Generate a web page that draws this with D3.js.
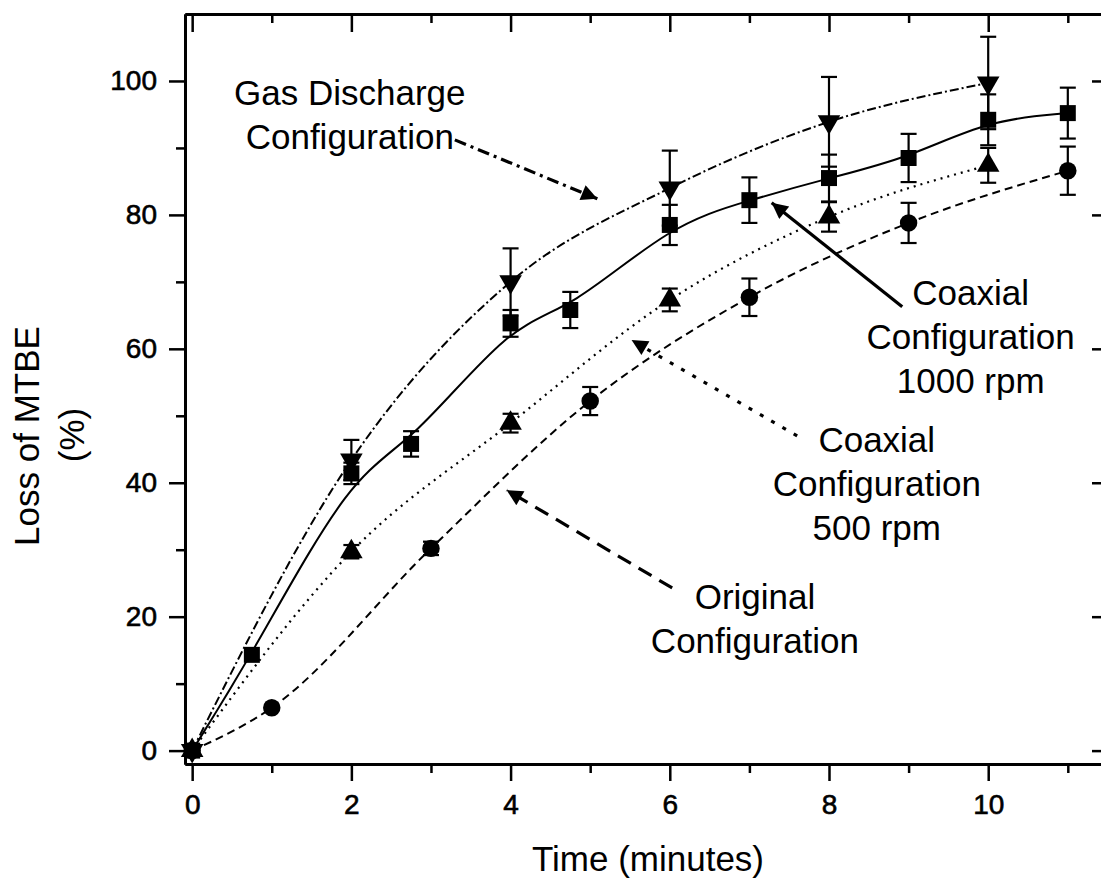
<html>
<meta charset="utf-8" />
<head>
<title>Loss of MTBE vs time</title>
<script src="https://cdn.jsdelivr.net/npm/d3@7"></script>
<style>
	body { margin: 0; background: #fff; }
	svg { font-family: "Liberation Sans", Arial, sans-serif; }
</style>
<script>
// coaxial 1000 rpm (squares, solid)
const sqT = [0, 0.75, 2, 2.75, 4, 4.75, 6, 7, 8, 9, 10, 11];
const sqY = [0, 14.3, 41.4, 45.8, 63.8, 65.8, 78.5, 82.2, 85.5, 88.5, 94.2, 95.2];
const sqErr = [0, 0, 1.6, 1.9, 2.0, 2.7, 3.0, 3.4, 3.5, 3.6, 3.8, 3.8];

// gas discharge (down triangles, dash-dot)
const gasT = [0, 2, 4, 6, 8, 10];
const gasY = [0, 43.4, 70.0, 84.0, 93.9, 99.7];
const gasErr = [0, 3.0, 5.0, 5.6, 6.7, 6.9];

// coaxial 500 rpm (up triangles, dotted)
const c500T = [0, 2, 4, 6, 8, 10];
const c500Y = [0, 29.7, 48.9, 67.3, 79.7, 87.4];
const c500Err = [0, 1.0, 1.4, 1.7, 2.2, 2.6];

// original (circles, dashed)
const origT = [0, 1, 3, 5, 7, 9, 11];
const origY = [0, 6.4, 30.2, 52.2, 67.7, 78.8, 86.6];
const origErr = [0, 0, 1.0, 2.1, 2.8, 3.0, 3.6];

const xMajor = [0, 2, 4, 6, 8, 10];
const xMinor = [1, 3, 5, 7, 9, 11];
const yMajor = [0, 20, 40, 60, 80, 100];
const yMinor = [10, 30, 50, 70, 90];

// annotation labels: lines, anchor (x, first baseline) in data units
const labelLines = [
	['Gas Discharge', 'Configuration'],
	['Coaxial', 'Configuration', '1000 rpm'],
	['Coaxial', 'Configuration', '500 rpm'],
	['Original', 'Configuration']
];
const labelX = [1.98, 9.78, 8.60, 7.07];
const labelY = [96.4, 66.5, 44.6, 21.2];
// arrows: from (x1,y1) to (x2,y2) in data units
const arrowFrom = [[3.30, 91.2], [8.92, 66.3], [7.60, 47.0], [6.03, 24.3]];
const arrowTo = [[5.09, 82.4], [7.28, 81.8], [5.52, 61.3], [3.95, 38.9]];

window.onload = function() {
	let svg = d3.select('svg');

	let x = d3.scaleLinear().domain([-0.09, 11.53]).range([185, 1110]);
	let y = d3.scaleLinear().domain([-2, 110]).range([764, 14]);

	// arrow head
	svg.append('defs').append('marker')
		.attr('id', 'head')
		.attr('viewBox', '0 0 10 10')
		.attr('refX', 10).attr('refY', 5)
		.attr('markerWidth', 6.5).attr('markerHeight', 5)
		.attr('markerUnits', 'strokeWidth')
		.attr('orient', 'auto')
		.append('path')
		.attr('d', 'M0,0 L10,5 L0,10 z')
		.style('fill', 'black');

	// axes
	function styleAxis(g) {
		g.selectAll('path.domain').style('stroke-width', '3px');
		g.selectAll('.tick line').style('stroke-width', '2.5px');
		g.selectAll('text').style('font-size', '28px').style('fill', 'black')
			.style('stroke', 'black').style('stroke-width', '0.6px')
			.style('font-family', '"Liberation Sans", Arial, sans-serif');
	}

	svg.append('g').attr('transform', 'translate(0,764)')
		.call(d3.axisBottom(x).tickValues(xMajor).tickSize(17).tickSizeOuter(0).tickPadding(13).tickFormat(d3.format('d')))
		.call(styleAxis);
	svg.append('g').attr('transform', 'translate(0,764)')
		.call(d3.axisBottom(x).tickValues(xMinor).tickSize(9).tickSizeOuter(0).tickFormat(''))
		.call(styleAxis);
	svg.append('g').attr('transform', 'translate(0,14)')
		.call(d3.axisTop(x).tickValues(xMajor).tickSize(-18).tickSizeOuter(0).tickFormat(''))
		.call(styleAxis);
	svg.append('g').attr('transform', 'translate(0,14)')
		.call(d3.axisTop(x).tickValues(xMinor).tickSize(-9).tickSizeOuter(0).tickFormat(''))
		.call(styleAxis);

	svg.append('g').attr('transform', 'translate(185,0)')
		.call(d3.axisLeft(y).tickValues(yMajor).tickSize(16).tickSizeOuter(0).tickPadding(12))
		.call(styleAxis);
	svg.append('g').attr('transform', 'translate(185,0)')
		.call(d3.axisLeft(y).tickValues(yMinor).tickSize(9).tickSizeOuter(0).tickFormat(''))
		.call(styleAxis);
	svg.append('g').attr('transform', 'translate(1110,0)')
		.call(d3.axisRight(y).tickValues(yMajor).tickSize(-18).tickSizeOuter(0).tickFormat(''))
		.call(styleAxis);
	svg.append('g').attr('transform', 'translate(1110,0)')
		.call(d3.axisRight(y).tickValues(yMinor).tickSize(-9).tickSizeOuter(0).tickFormat(''))
		.call(styleAxis);

	// axis titles
	svg.append('text')
		.attr('x', 648).attr('y', 871)
		.attr('text-anchor', 'middle')
		.style('font-size', '35px')
		.text('Time (minutes)');
	svg.append('text')
		.attr('transform', 'translate(39,436) rotate(-90)')
		.attr('text-anchor', 'middle')
		.style('font-size', '35px')
		.text('Loss of MTBE');
	svg.append('text')
		.attr('transform', 'translate(84,435) rotate(-90)')
		.attr('text-anchor', 'middle')
		.style('font-size', '35px')
		.text('(%)');

	// series
	let series = [
		{ t: gasT, v: gasY, e: gasErr, dash: '9,3,2,3', curve: d3.curveMonotoneX, sym: 'down' },
		{ t: sqT, v: sqY, e: sqErr, dash: null, curve: d3.curveBasis, sym: 'square' },
		{ t: c500T, v: c500Y, e: c500Err, dash: '2,5', curve: d3.curveMonotoneX, sym: 'up' },
		{ t: origT, v: origY, e: origErr, dash: '8,5', curve: d3.curveMonotoneX, sym: 'circle' }
	];

	series.forEach((s) => {
		s.pts = s.t.map((t, i) => ({ t: t, v: s.v[i], e: s.e[i] }));
	});

	series.forEach((s) => {
		let line = d3.line().x((d) => x(d.t)).y((d) => y(d.v)).curve(s.curve);
		svg.append('path')
			.datum(s.pts)
			.attr('d', line)
			.style('fill', 'none')
			.style('stroke', 'black')
			.style('stroke-width', s.dash == '2,5' ? '2.2px' : '2px')
			.style('stroke-dasharray', s.dash);
	});

	// error bars
	series.forEach((s) => {
		let eb = svg.append('g').selectAll('g')
			.data(s.pts.filter((d) => d.e > 0))
			.enter().append('g');
		eb.append('line')
			.attr('x1', (d) => x(d.t)).attr('x2', (d) => x(d.t))
			.attr('y1', (d) => y(d.v - d.e)).attr('y2', (d) => y(d.v + d.e));
		eb.append('line')
			.attr('x1', (d) => x(d.t) - 8).attr('x2', (d) => x(d.t) + 8)
			.attr('y1', (d) => y(d.v + d.e)).attr('y2', (d) => y(d.v + d.e));
		eb.append('line')
			.attr('x1', (d) => x(d.t) - 8).attr('x2', (d) => x(d.t) + 8)
			.attr('y1', (d) => y(d.v - d.e)).attr('y2', (d) => y(d.v - d.e));
		eb.selectAll('line').style('stroke', 'black').style('stroke-width', '2.2px');
	});

	// markers
	let symType = { square: d3.symbolSquare, circle: d3.symbolCircle, up: d3.symbolTriangle, down: d3.symbolTriangle };
	let symSize = { square: 256, circle: 240, up: 220, down: 220 };
	series.forEach((s) => {
		svg.append('g').selectAll('path')
			.data(s.pts)
			.enter().append('path')
			.attr('d', d3.symbol().type(symType[s.sym]).size(symSize[s.sym]))
			.attr('transform', (d) => 'translate(' + x(d.t) + ',' + y(d.v) + ')' + (s.sym == 'down' ? ' rotate(180)' : ''))
			.style('fill', 'black');
	});

	// annotations
	let arrowDash = ['12,5,3,5', null, '4,9', '15,9'];
	labelLines.forEach((lines, i) => {
		let txt = svg.append('text')
			.attr('text-anchor', 'middle')
			.style('font-size', '35px');
		lines.forEach((l, j) => {
			txt.append('tspan')
				.attr('x', x(labelX[i]))
				.attr('y', y(labelY[i]) + j * 44)
				.text(l);
		});
		svg.append('line')
			.attr('x1', x(arrowFrom[i][0])).attr('y1', y(arrowFrom[i][1]))
			.attr('x2', x(arrowTo[i][0])).attr('y2', y(arrowTo[i][1]))
			.style('stroke', 'black')
			.style('stroke-width', '3.2px')
			.style('stroke-dasharray', arrowDash[i])
			.attr('marker-end', 'url(#head)');
	});
}
</script>
</head>
<body>
<svg width="1101" height="882"></svg>
</body>
</html>
